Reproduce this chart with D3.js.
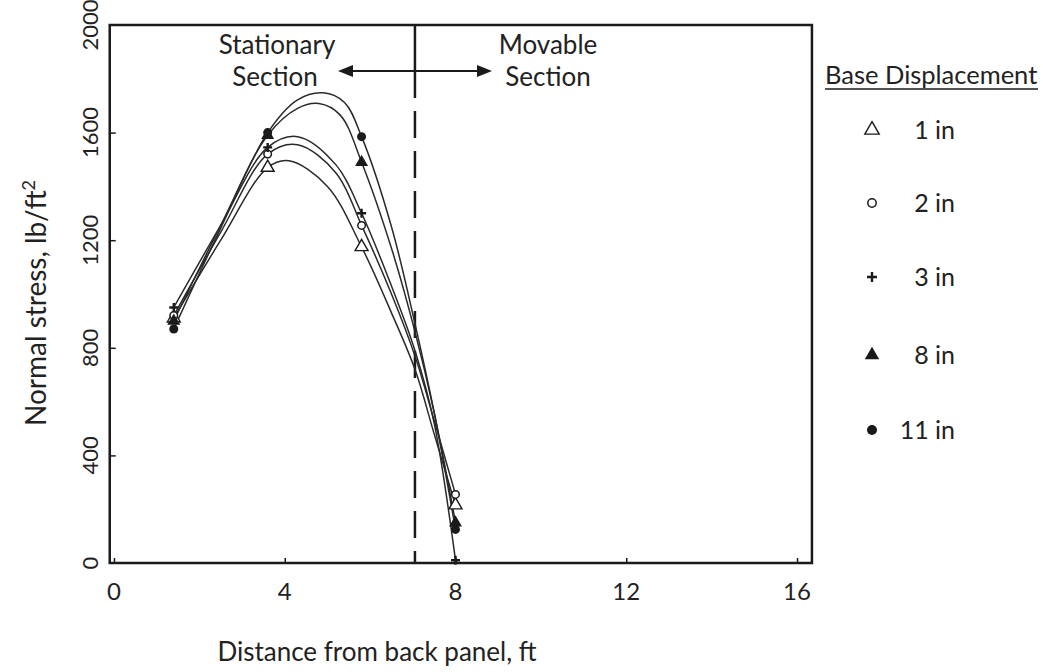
<!DOCTYPE html>
<html><head><meta charset="utf-8">
<script src="https://cdn.jsdelivr.net/npm/d3@7"></script>
<style>
body{margin:0;background:#fff;}
text{font-family:Lato,"Open Sans",sans-serif;fill:#222;}
</style></head>
<body><svg id="c" width="1043" height="672"></svg>
<script>
// ---------- data ----------
const seriesNames = ["1 in","2 in","3 in","8 in","11 in"];
const seriesSymbols = ["triangleOpen","circleOpen","plus","triangleFilled","circleFilled"];
const measuredX = [1.4, 3.6, 5.8, 8.0];
const measured1 = [910, 1470, 1175, 215];
const measured2 = [920, 1520, 1255, 255];
const measured3 = [950, 1545, 1300, 10];
const measured8 = [900, 1590, 1490, 150];
const measured11 = [870, 1600, 1585, 125];
// fitted curves
const curveX1 = [1.4, 2.5, 3.6, 4.1, 5.0, 5.8, 6.5, 7.05, 7.5, 8.0];
const curveY1 = [910, 1200, 1470, 1495, 1400, 1175, 930, 720, 480, 215];
const curveX2 = [1.4, 2.5, 3.6, 4.3, 5.2, 5.8, 6.5, 7.05, 7.5, 8.0];
const curveY2 = [920, 1230, 1520, 1555, 1450, 1255, 1000, 770, 530, 255];
const curveX3 = [1.4, 2.5, 3.6, 4.3, 5.2, 5.8, 6.5, 7.05, 7.5, 8.0];
const curveY3 = [950, 1255, 1545, 1585, 1480, 1300, 1030, 790, 520, 10];
const curveX8 = [1.4, 2.5, 3.6, 4.3, 4.8, 5.3, 5.8, 6.5, 7.05, 7.5, 8.0];
const curveY8 = [900, 1255, 1590, 1690, 1708, 1665, 1490, 1170, 860, 560, 150];
const curveX11 = [1.4, 2.5, 3.6, 4.3, 4.9, 5.4, 5.8, 6.5, 7.05, 7.5, 8.0];
const curveY11 = [870, 1245, 1600, 1722, 1748, 1712, 1585, 1250, 890, 560, 125];
const xTicks = [0, 4, 8, 12, 16];
const yTicks = [0, 400, 800, 1200, 1600, 2000];
const dividerX = 7.05;

const measured = [measured1, measured2, measured3, measured8, measured11];
const curvesX = [curveX1, curveX2, curveX3, curveX8, curveX11];
const curvesY = [curveY1, curveY2, curveY3, curveY8, curveY11];

// ---------- layout ----------
const svg = d3.select("#c");
const x = d3.scaleLinear().domain([0,16]).range([114,797]);
const y = d3.scaleLinear().domain([0,2000]).range([563,25]);
const boxL = x(-0.1), boxR = x(16.35), boxT = y(2000), boxB = y(0);
const ink = "#1a1a1a";

// ticks (inward)
const gx = svg.append("g").attr("transform",`translate(0,${boxB})`)
  .call(d3.axisTop(x).tickValues(xTicks).tickSize(5).tickFormat(""));
gx.select(".domain").remove();
gx.selectAll("line").attr("stroke",ink).attr("stroke-width",1.5);
const gy = svg.append("g").attr("transform",`translate(${boxL},0)`)
  .call(d3.axisRight(y).tickValues(yTicks.slice(1,-1)).tickSize(6).tickFormat(""));
gy.select(".domain").remove();
gy.selectAll("line").attr("stroke",ink).attr("stroke-width",1.5);

// tick labels
svg.append("g").selectAll("text").data(xTicks).join("text")
  .attr("x",d=>x(d)).attr("y",600).attr("text-anchor","middle")
  .attr("font-size",24).text(d=>d);
svg.append("g").selectAll("text").data(yTicks).join("text")
  .attr("transform",d=>`translate(98,${y(d)}) rotate(-90)`)
  .attr("text-anchor","middle").attr("font-size",22).text(d=>d);

// box
svg.append("rect").attr("x",boxL).attr("y",boxT).attr("width",boxR-boxL).attr("height",boxB-boxT)
  .attr("fill","none").attr("stroke",ink).attr("stroke-width",2.5);

// divider: solid near the top, dashed below
const dvx = x(dividerX);
svg.append("line").attr("x1",dvx).attr("x2",dvx).attr("y1",boxT).attr("y2",98)
  .attr("stroke",ink).attr("stroke-width",2.5);
svg.append("line").attr("x1",dvx).attr("x2",dvx).attr("y1",111).attr("y2",boxB)
  .attr("stroke",ink).attr("stroke-width",2.5).attr("stroke-dasharray","27,13");

// section arrow
const ay = 71, ax1 = 338, ax2 = 492;
svg.append("line").attr("x1",ax1+12).attr("x2",ax2-12).attr("y1",ay).attr("y2",ay)
  .attr("stroke",ink).attr("stroke-width",1.8);
svg.append("path").attr("d",`M${ax1},${ay} L${ax1+15},${ay-6} L${ax1+15},${ay+6} Z`).attr("fill",ink);
svg.append("path").attr("d",`M${ax2},${ay} L${ax2-15},${ay-6} L${ax2-15},${ay+6} Z`).attr("fill",ink);
const secFont = 26;
svg.append("text").attr("x",277).attr("y",54).attr("text-anchor","middle").attr("font-size",secFont).text("Stationary");
svg.append("text").attr("x",275).attr("y",86).attr("text-anchor","middle").attr("font-size",secFont).text("Section");
svg.append("text").attr("x",548).attr("y",54).attr("text-anchor","middle").attr("font-size",secFont).text("Movable");
svg.append("text").attr("x",548).attr("y",86).attr("text-anchor","middle").attr("font-size",secFont).text("Section");

// curves
const line = d3.line().x(d=>x(d[0])).y(d=>y(d[1])).curve(d3.curveCatmullRom.alpha(0.5));
curvesX.forEach((cx,i)=>{
  const pts = cx.map((v,j)=>[v,curvesY[i][j]]);
  svg.append("path").attr("d",line(pts)).attr("fill","none")
    .attr("stroke","#2a2a2a").attr("stroke-width",1.5);
});

// markers
function drawSymbol(g,type,cx,cy,s){
  if(type==="triangleOpen"){
    g.append("path").attr("d",d3.symbol(d3.symbolTriangle,s*s*0.9)()).attr("transform",`translate(${cx},${cy})`)
      .attr("fill","#fff").attr("stroke",ink).attr("stroke-width",1.4);
  } else if(type==="triangleFilled"){
    g.append("path").attr("d",d3.symbol(d3.symbolTriangle,s*s*0.9)()).attr("transform",`translate(${cx},${cy})`)
      .attr("fill",ink);
  } else if(type==="circleOpen"){
    g.append("circle").attr("cx",cx).attr("cy",cy).attr("r",s*0.42).attr("fill","#fff").attr("stroke",ink).attr("stroke-width",1.5);
  } else if(type==="circleFilled"){
    g.append("circle").attr("cx",cx).attr("cy",cy).attr("r",s*0.5).attr("fill",ink);
  } else if(type==="plus"){
    g.append("path").attr("d",`M${cx-s/2},${cy}H${cx+s/2}M${cx},${cy-s/2}V${cy+s/2}`)
      .attr("stroke",ink).attr("stroke-width",2.4);
  }
}
const mg = svg.append("g");
measured.forEach((vals,i)=>{
  vals.forEach((v,j)=>drawSymbol(mg,seriesSymbols[i],x(measuredX[j]),y(v),9));
});

// legend
svg.append("text").attr("x",825).attr("y",84).attr("font-size",25.5).text("Base Displacement");
svg.append("line").attr("x1",825).attr("x2",1038).attr("y1",89).attr("y2",89).attr("stroke",ink).attr("stroke-width",1.3);
const legY = [130, 203, 277, 355, 430];
const lg = svg.append("g");
seriesNames.forEach((n,i)=>{
  drawSymbol(lg,seriesSymbols[i],872,legY[i],10);
  lg.append("text").attr("x",955).attr("y",legY[i]+9).attr("text-anchor","end").attr("font-size",25).text(n);
});

// axis titles
svg.append("text").attr("x",377).attr("y",661).attr("text-anchor","middle").attr("font-size",26)
  .text("Distance from back panel, ft");
const yt = svg.append("text").attr("transform","translate(46,303) rotate(-90)").attr("text-anchor","middle").attr("font-size",28);
yt.append("tspan").text("Normal stress, lb/ft");
yt.append("tspan").attr("dy",-11).attr("font-size",18).text("2");
</script></body></html>
